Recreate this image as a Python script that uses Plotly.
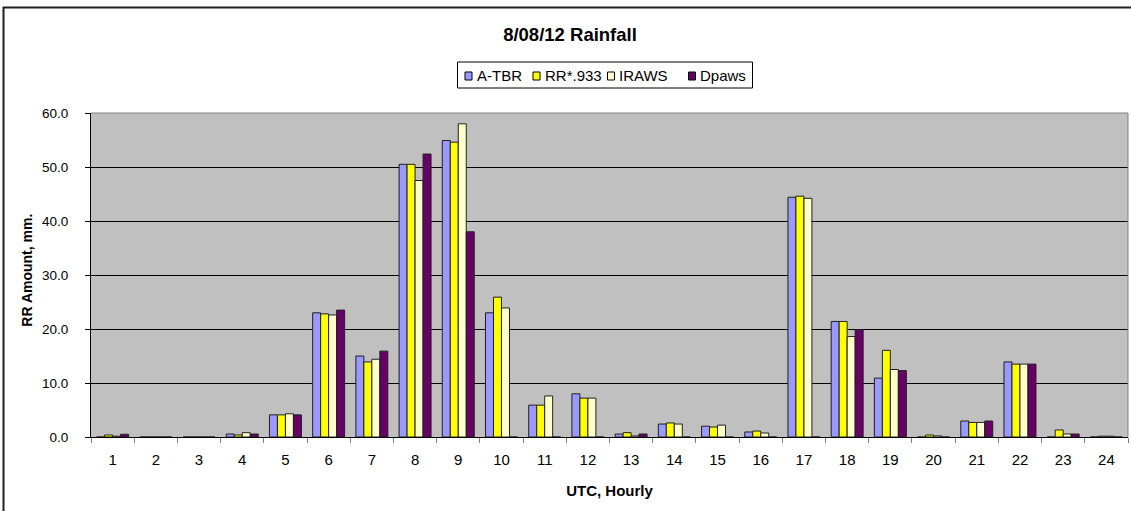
import plotly.graph_objects as go

hours = [str(h) for h in range(1, 25)]
a_tbr = [0.0, 0.0, 0.0, 0.55, 4.1, 23.0, 15.0, 50.5, 54.9, 23.0, 5.9, 8.0,
         0.55, 2.4, 2.0, 0.93, 44.4, 21.4, 10.9, 0.0, 2.96, 13.9, 0.0, 0.0]
rr_933 = [0.37, 0.0, 0.0, 0.37, 4.1, 22.8, 13.9, 50.5, 54.6, 25.9, 5.9, 7.2,
          0.8, 2.6, 1.85, 1.1, 44.6, 21.4, 16.05, 0.37, 2.7, 13.5, 1.3, 0.15]
iraws = [0.15, 0.0, 0.0, 0.8, 4.3, 22.6, 14.4, 47.5, 58.0, 23.9, 7.6, 7.2,
         0.2, 2.4, 2.2, 0.74, 44.2, 18.6, 12.5, 0.2, 2.7, 13.5, 0.55, 0.15]
dpaws = [0.5, 0.0, 0.0, 0.55, 4.1, 23.5, 15.9, 52.4, 38.0, 0.0, 0.0, 0.0,
         0.55, 0.0, 0.0, 0.0, 0.0, 19.9, 12.3, 0.0, 2.96, 13.5, 0.55, 0.0]

series_names = ["A-TBR", "RR*.933", "IRAWS", "Dpaws"]
series_values = [a_tbr, rr_933, iraws, dpaws]
series_colors = ["#9999FF", "#FFFF00", "#FFFFCC", "#660066"]

FONT = "Liberation Sans, Arial, sans-serif"
W, H = 1131, 511
ML, MR, MT, MB = 91, 3, 113, 74
PW, PH = W - ML - MR, H - MT - MB


def px_x(px):
    return (px - ML) / PW


def px_y(py):
    return (H - MB - py) / PH


fig = go.Figure()
for name, vals, col in zip(series_names, series_values, series_colors):
    fig.add_trace(go.Bar(x=hours, y=vals, name=name,
                         marker=dict(color=col, line=dict(color="#202020", width=1))))

fig.update_layout(
    width=W, height=H,
    margin=dict(l=ML, r=MR, t=MT, b=MB, autoexpand=False),
    paper_bgcolor="white", plot_bgcolor="#C0C0C0",
    barmode="group", bargap=0.26, bargroupgap=0,
    font=dict(family=FONT, size=14, color="black"),
    title=dict(text="<b>8/08/12 Rainfall</b>", x=570 / W, xanchor="center",
               xref="container", y=1 - 35 / H, yanchor="middle",
               font=dict(size=18.5, family=FONT, color="black")),
    showlegend=False,
)
fig.update_xaxes(type="category", tickson="boundaries", ticks="outside", ticklen=5,
                 tickcolor="#808080", showline=True, linecolor="black", linewidth=1,
                 showgrid=False, automargin=False, ticklabelstandoff=9,
                 title=dict(text="<b>UTC, Hourly</b>", font=dict(size=15, family=FONT), standoff=18),
                 tickfont=dict(size=15, color="black"))
fig.update_yaxes(range=[0, 60], dtick=10, tickformat=".1f", ticks="outside", ticklen=5,
                 tickcolor="black", showline=True, linecolor="black", linewidth=1,
                 showgrid=True, gridcolor="black", gridwidth=1, zeroline=False,
                 automargin=False, ticklabelstandoff=14,
                 tickfont=dict(size=13.5, color="black"))

# y-axis title
fig.add_annotation(text="<b>RR Amount, mm.</b>", xref="paper", yref="paper",
                   x=px_x(26.7), y=px_y(270), textangle=-90, showarrow=False,
                   xanchor="center", yanchor="middle",
                   font=dict(size=14, family=FONT, color="black"))

# plot-area border (top and right) in grey
fig.add_shape(type="line", xref="paper", yref="paper", x0=0, x1=1, y0=1, y1=1,
              line=dict(color="#808080", width=1))
fig.add_shape(type="line", xref="paper", yref="paper", x0=1, x1=1, y0=0, y1=1,
              line=dict(color="#808080", width=1))
# outer chart frame
fig.add_shape(type="rect", xref="paper", yref="paper", x0=px_x(3.5), x1=px_x(1140),
              y0=px_y(520), y1=px_y(7.5), line=dict(color="#202020", width=2),
              fillcolor="rgba(0,0,0,0)")

# legend box (drawn manually to match the compact Excel legend)
fig.add_shape(type="rect", xref="paper", yref="paper", x0=px_x(457.5), x1=px_x(752.5),
              y0=px_y(88), y1=px_y(62), line=dict(color="black", width=1),
              fillcolor="white")
swatch_x = [465, 533, 607.5, 688.5]
for name, col, sx in zip(series_names, series_colors, swatch_x):
    fig.add_shape(type="rect", xref="paper", yref="paper", x0=px_x(sx), x1=px_x(sx + 7),
                  y0=px_y(80), y1=px_y(72), line=dict(color="black", width=1),
                  fillcolor=col)
    fig.add_annotation(text=name, xref="paper", yref="paper", x=px_x(sx + 9.5), y=px_y(76),
                       xanchor="left", yanchor="middle", showarrow=False,
                       font=dict(size=15, family=FONT, color="black"))

fig.write_html("out.html", config={"displayModeBar": False},
               post_script="document.body.style.margin='0';document.body.style.overflow='hidden';")
